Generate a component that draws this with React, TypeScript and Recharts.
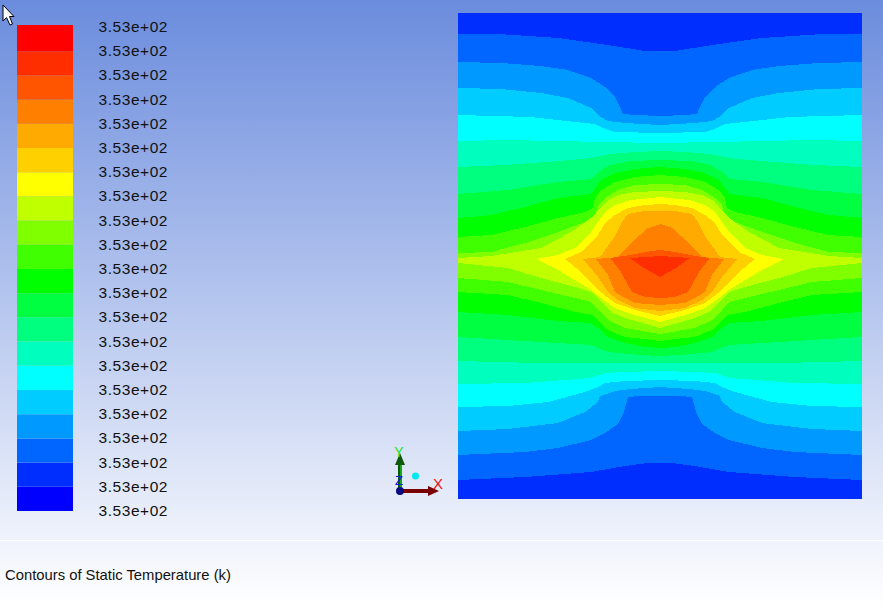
import { Area, AreaChart, Bar, BarChart, XAxis, YAxis } from "recharts"

// contour colours, coldest first
const legendColors = [
    "#0000ff", "#002eff", "#0066ff", "#0099ff", "#00ccff", "#00ffff", "#00ffbf", "#00ff7f", "#00ff40", "#00ff00",
    "#40ff00", "#80ff00", "#bfff00", "#ffff00", "#ffd000", "#ffaa00", "#ff8000", "#ff5500", "#ff2e00", "#ff0000",
]
const legendSpans = [1, 1, 1, 1, 1, 1, 1, 1, 1, 1, 1, 1, 1, 1, 1, 1, 1, 1, 1, 1.08]
const legendTicks = [0, 1, 2, 3, 4, 5, 6, 7, 8, 9, 10, 11, 12, 13, 14, 15, 16, 17, 18, 19, 20]
const legendLabel = "3.53e+02"

const RIDGE = 259

// [distance from the centre line, height] pairs, the field is symmetric left to right
const domainEdge = [[202, 13], [0, 13]]
const domainFloor = [[202, 499], [0, 499]]

const upper0066 = [[202, 34], [162, 34], [102, 38], [52, 45], [15, 51], [0, 51]]
const lower0066 = [[202, 480], [135, 477], [69, 472], [35, 466], [12, 463], [0, 463]]
const upper0099 = [[202, 62], [159, 63], [119, 66], [92, 70], [69, 78], [55, 87], [45, 97], [40, 107], [37, 114], [25, 115], [0, 116]]
const lower0099 = [[202, 455], [135, 452], [102, 448], [69, 440], [55, 433], [42, 424], [36, 412], [32, 397], [20, 396], [0, 396]]
const upper00cc = [[202, 88], [159, 89], [119, 93], [92, 98], [69, 108], [59, 117], [52, 121], [35, 123], [0, 125]]
const lower00cc = [[202, 431], [152, 429], [102, 423], [75, 412], [62, 402], [60, 396], [45, 391], [29, 389], [0, 387]]
const upper00ff = [[202, 115], [129, 117], [85, 122], [65, 124], [55, 129], [45, 132], [0, 133]]
const lower00ff = [[202, 407], [152, 406], [112, 402], [75, 392], [62, 387], [55, 383], [35, 381], [0, 380]]
const upper00bf = [[202, 141], [152, 140], [55, 142], [0, 143]]
const lower00bf = [[202, 384], [135, 383], [69, 378], [55, 373], [35, 372], [0, 371]]
const upper007f = [[202, 167], [155, 165], [100, 161], [69, 158], [50, 154], [25, 152], [0, 151]]
const lower007f = [[202, 361], [122, 363], [0, 363]]
const upper0040 = [[202, 194], [152, 190], [102, 182], [69, 179], [62, 172], [50, 165], [30, 161], [0, 160]]
const lower0040 = [[202, 337], [69, 345], [52, 352], [20, 355], [0, 356]]
const upper00ff00 = [[202, 218], [169, 215], [135, 207], [102, 198], [69, 194], [65, 188], [59, 180], [45, 173], [25, 169], [0, 167]]
const lower00ff00 = [[202, 312], [152, 315], [102, 321], [69, 323], [62, 328], [52, 337], [35, 343], [15, 347], [0, 348]]
const upper40ff = [[202, 237], [169, 235], [135, 227], [102, 218], [75, 212], [67, 208], [65, 198], [59, 190], [45, 182], [25, 177], [0, 175]]
const lower40ff = [[202, 292], [152, 295], [119, 303], [85, 312], [67, 315], [63, 320], [52, 330], [35, 337], [15, 339], [0, 341]]
const upper80ff = [[202, 253], [169, 252], [135, 243], [102, 232], [75, 222], [65, 217], [62, 205], [55, 198], [42, 190], [25, 185], [0, 184]]
const lower80ff = [[202, 278], [152, 282], [119, 290], [85, 298], [69, 302], [62, 310], [52, 320], [35, 328], [0, 334]]
const upperbfff = [[202, 258], [169, 256], [119, 248], [89, 232], [69, 218], [64, 213], [59, 207], [52, 200], [42, 195], [25, 192], [0, 191]]
const lowerbfff = [[202, 263], [152, 268], [119, 278], [85, 287], [69, 292], [59, 302], [49, 312], [35, 318], [0, 328]]
const upperffff = [[124, 259], [102, 255], [85, 248], [69, 232], [62, 222], [55, 212], [45, 205], [29, 200], [0, 197]]
const lowerffff = [[124, 259], [102, 270], [85, 280], [69, 290], [59, 298], [45, 308], [29, 314], [0, 322]]
const upperffd0 = [[95, 259], [79, 252], [62, 235], [55, 223], [45, 215], [32, 208], [15, 205], [0, 204]]
const lowerffd0 = [[95, 259], [79, 272], [62, 290], [45, 303], [25, 310], [0, 316]]
const upperffaa = [[77, 259], [60, 257], [52, 246], [45, 236], [38, 222], [32, 214], [15, 211], [0, 211]]
const lowerffaa = [[77, 259], [62, 277], [52, 292], [42, 300], [25, 308], [0, 311]]
const upperff80 = [[64, 259], [42, 257], [29, 243], [12, 228], [0, 224]]
const lowerff80 = [[64, 259], [52, 275], [45, 292], [35, 298], [25, 303], [0, 305]]
const upperff55 = [[49, 258], [30, 255], [15, 252], [0, 250]]
const lowerff55 = [[49, 259], [39, 272], [32, 285], [28, 292], [15, 297], [0, 298]]
const upperff2e = [[30, 258], [15, 257], [0, 256]]
const lowerff2e = [[30, 258], [16, 268], [0, 277]]

const contourLevels = [
    { color: "#002eff", upper: domainEdge, lower: domainFloor },
    { color: "#0066ff", upper: upper0066, lower: lower0066 },
    { color: "#0099ff", upper: upper0099, lower: lower0099 },
    { color: "#00ccff", upper: upper00cc, lower: lower00cc },
    { color: "#00ffff", upper: upper00ff, lower: lower00ff },
    { color: "#00ffbf", upper: upper00bf, lower: lower00bf },
    { color: "#00ff7f", upper: upper007f, lower: lower007f },
    { color: "#00ff40", upper: upper0040, lower: lower0040 },
    { color: "#00ff00", upper: upper00ff00, lower: lower00ff00 },
    { color: "#40ff00", upper: upper40ff, lower: lower40ff },
    { color: "#80ff00", upper: upper80ff, lower: lower80ff },
    { color: "#bfff00", upper: upperbfff, lower: lowerbfff },
    { color: "#ffff00", upper: upperffff, lower: lowerffff },
    { color: "#ffd000", upper: upperffd0, lower: lowerffd0 },
    { color: "#ffaa00", upper: upperffaa, lower: lowerffaa },
    { color: "#ff8000", upper: upperff80, lower: lowerff80 },
    { color: "#ff5500", upper: upperff55, lower: lowerff55 },
    { color: "#ff2e00", upper: upperff2e, lower: lowerff2e },
]

const toPoints = (edge: number[][]) => {
    const left = edge.map(([d, y]) => ({ x: -d, y }))
    const right = edge.filter(([d]) => d !== 0).reverse().map(([d, y]) => ({ x: d, y }))
    return [...left, ...right]
}

const upperBand = (edge: number[][]) => toPoints(edge).map(p => ({ x: p.x, range: [p.y, RIDGE] }))
const lowerBand = (edge: number[][]) => toPoints(edge).map(p => ({ x: p.x, range: [RIDGE, p.y] }))

const legendRow = [Object.fromEntries(legendSpans.map((v, i) => [`band${i}`, v]))]

const font = "'Liberation Sans', Arial, sans-serif"

const Triad = () => (
    <svg width={70} height={70} style={{ position: "absolute", left: 380, top: 440 }}>
        <line x1={20} y1={51} x2={20} y2={20} stroke="#0a5a0a" strokeWidth={4} />
        <line x1={21} y1={50} x2={21} y2={22} stroke="#19c419" strokeWidth={1.5} />
        <polygon points="20,13 15,25 25,25" fill="#0d5a0d" />
        <line x1={20} y1={51} x2={54} y2={51} stroke="#7a0000" strokeWidth={4} />
        <polygon points="59,51 48,46 48,56" fill="#7a0000" />
        <circle cx={20} cy={51} r={4} fill="#0a0a80" />
        <circle cx={35.5} cy={36} r={3.5} fill="#00e8f0" />
        <text x={19} y={17} fontFamily={font} fontSize={14} textAnchor="middle" fill="#20e020">Y</text>
        <text x={58} y={49} fontFamily={font} fontSize={15} textAnchor="middle" fill="#f01010">X</text>
        <text x={19} y={45} fontFamily={font} fontSize={13} textAnchor="middle" fill="#1010e0">Z</text>
    </svg>
)

const Cursor = () => (
    <svg width={16} height={26} style={{ position: "absolute", left: 0, top: 2 }}>
        <polygon points="3,3 3,19 6.5,15.5 10,23 12.5,22 9.5,14.5 14,14.5" fill="#ffffff" stroke="#000000" strokeWidth={1} />
    </svg>
)

export default function App() {
    return (
        <div style={{
            position: "absolute", left: 0, top: 0, width: 883, height: 605, overflow: "hidden",
            background: "linear-gradient(180deg, #6b8cdd 0%, #ffffff 100%)",
        }}>
            <Cursor />

            <div style={{ position: "absolute", left: 17, top: 13 }}>
                <BarChart
                    width={171}
                    height={510}
                    data={legendRow}
                    margin={{ top: 12, right: 0, bottom: 12, left: 0 }}
                    barCategoryGap={0}
                >
                    <XAxis hide />
                    <YAxis
                        orientation="right"
                        type="number"
                        domain={[0, 20.08]}
                        ticks={legendTicks}
                        interval={0}
                        width={115}
                        axisLine={false}
                        tickLine={false}
                        tickMargin={0}
                        tickFormatter={() => legendLabel}
                        tick={{ fill: "#111111", fontSize: 15.5, fontFamily: font, letterSpacing: 0.55, textAnchor: "end", dx: 89, dy: -0.5 }}
                    />
                    {legendColors.map((color, i) => (
                        <Bar key={color} dataKey={`band${i}`} stackId="legend" fill={color} isAnimationActive={false} />
                    ))}
                </BarChart>
            </div>

            <div style={{ position: "absolute", left: 458, top: 13 }}>
                <AreaChart width={404} height={486} data={upperBand(domainEdge)} margin={{ top: 0, right: 0, bottom: 0, left: 0 }}>
                    <XAxis hide dataKey="x" type="number" domain={[-202, 202]} />
                    <YAxis hide type="number" domain={[13, 499]} reversed />
                    {contourLevels.flatMap(level => [
                        <Area
                            key={`${level.color}-upper`}
                            data={upperBand(level.upper)}
                            dataKey="range"
                            type="linear"
                            stroke="none"
                            fill={level.color}
                            fillOpacity={1}
                            dot={false}
                            activeDot={false}
                            shapeRendering="crispEdges"
                            isAnimationActive={false}
                        />,
                        <Area
                            key={`${level.color}-lower`}
                            data={lowerBand(level.lower)}
                            dataKey="range"
                            type="linear"
                            stroke="none"
                            fill={level.color}
                            fillOpacity={1}
                            dot={false}
                            activeDot={false}
                            shapeRendering="crispEdges"
                            isAnimationActive={false}
                        />,
                    ])}
                </AreaChart>
            </div>

            <Triad />

            <div style={{ position: "absolute", left: 0, top: 540, width: 883, height: 1, background: "#ffffff" }} />
            <div style={{
                position: "absolute", left: 5, top: 566, fontFamily: font, fontSize: 14.8, lineHeight: "18px",
                color: "#111111", whiteSpace: "nowrap",
            }}>
                Contours of Static Temperature (k)
            </div>
        </div>
    )
}
